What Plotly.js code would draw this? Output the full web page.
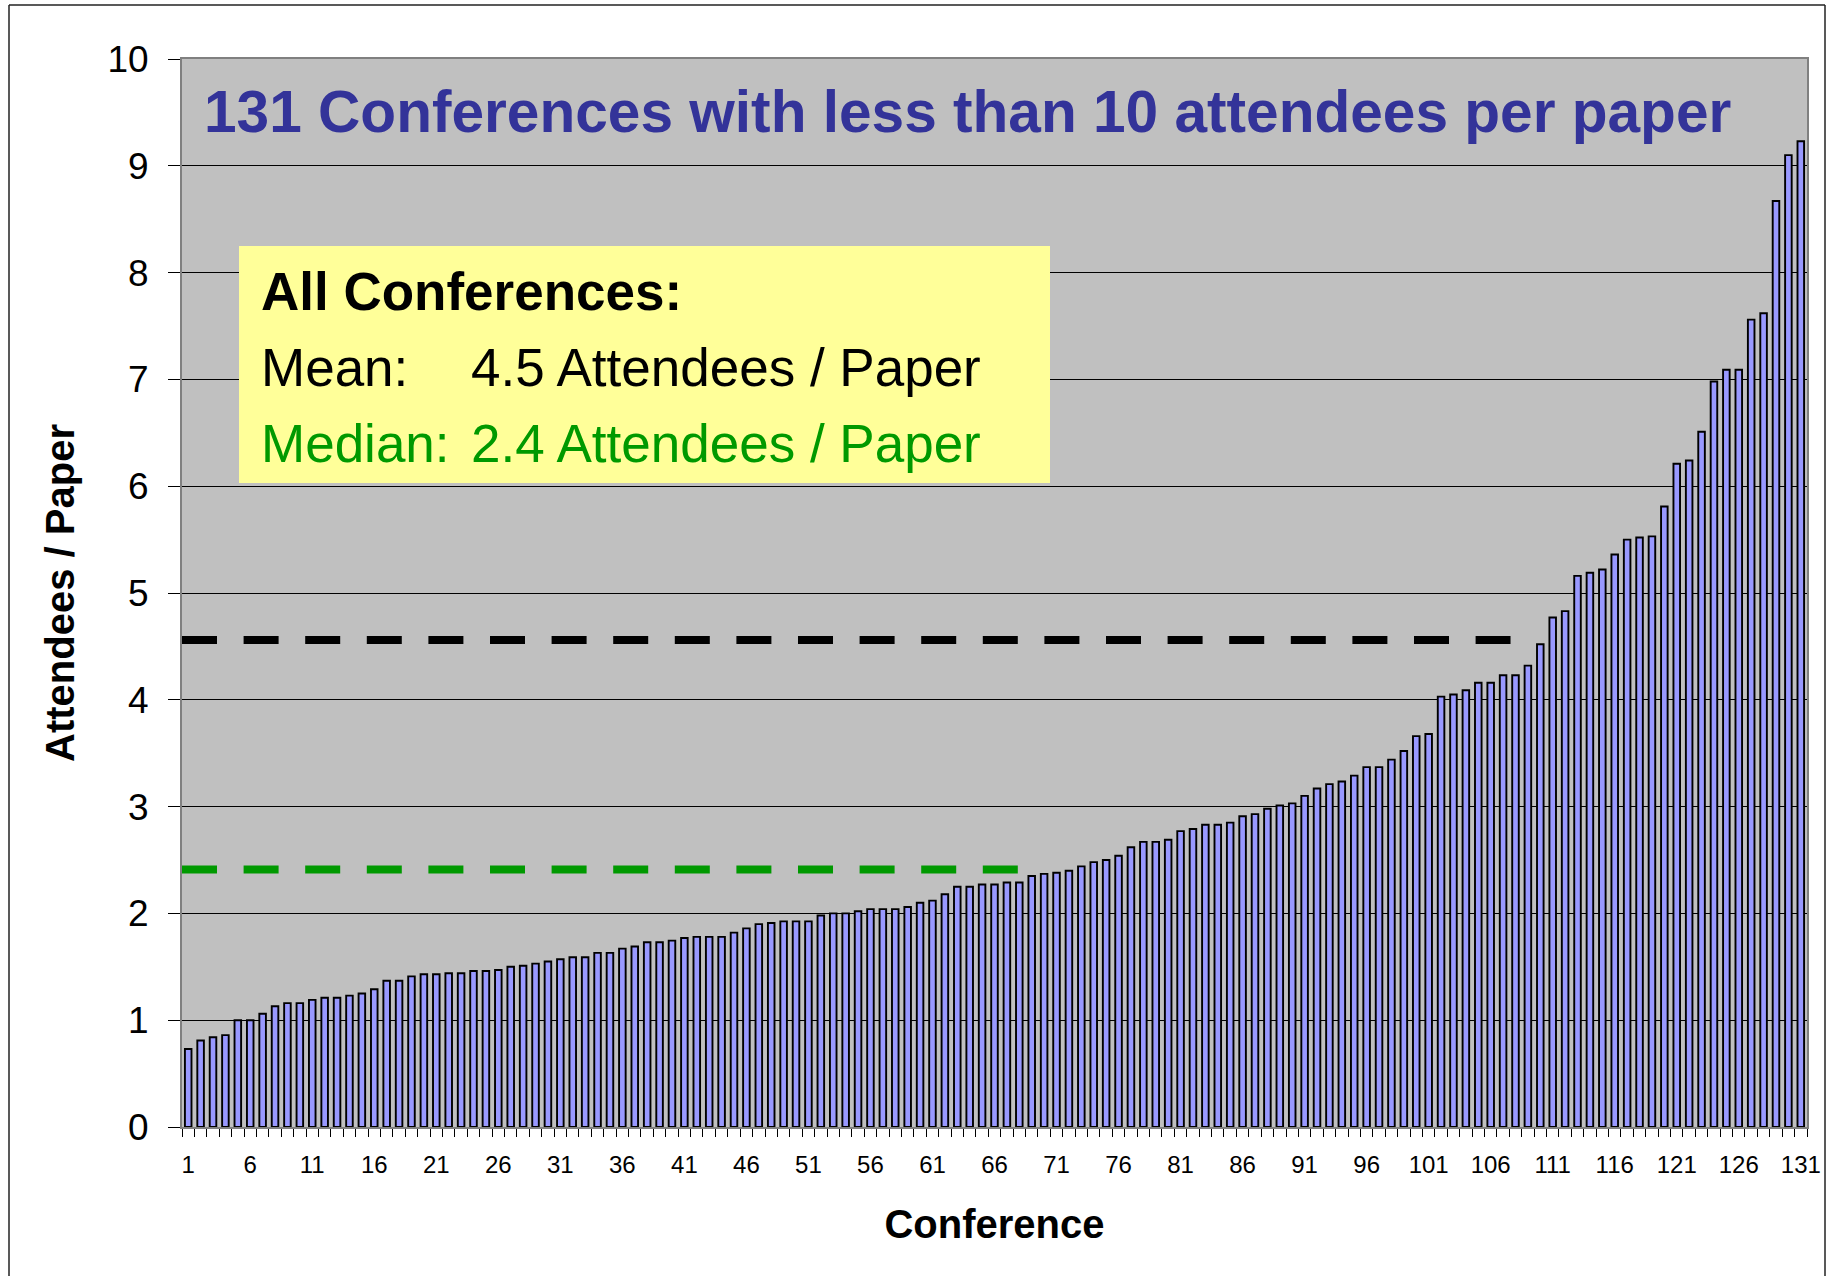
<!DOCTYPE html>
<html>
<head>
<meta charset="utf-8">
<script src="https://cdn.plot.ly/plotly-3.0.1.min.js"></script>
<style>
  html, body { margin: 0; padding: 0; background: #ffffff; }
  #chart { width: 1830px; height: 1276px; }
</style>
</head>
<body>
<div id="chart"></div>
<script>
// Conference index (sorted by attendees per paper)
const conferences = [
  1,2,3,4,5,6,7,8,9,10,11,12,13,14,15,16,17,18,19,20,
  21,22,23,24,25,26,27,28,29,30,31,32,33,34,35,36,37,38,39,40,
  41,42,43,44,45,46,47,48,49,50,51,52,53,54,55,56,57,58,59,60,
  61,62,63,64,65,66,67,68,69,70,71,72,73,74,75,76,77,78,79,80,
  81,82,83,84,85,86,87,88,89,90,91,92,93,94,95,96,97,98,99,100,
  101,102,103,104,105,106,107,108,109,110,111,112,113,114,115,116,117,118,119,120,
  121,122,123,124,125,126,127,128,129,130,131
];

// Attendees per paper
const attendeesPerPaper = [
  0.73,0.81,0.84,0.86,1.00,1.00,1.06,1.13,1.16,1.16,
  1.19,1.21,1.21,1.23,1.25,1.29,1.37,1.37,1.41,1.43,
  1.43,1.44,1.44,1.46,1.46,1.47,1.50,1.51,1.53,1.55,
  1.57,1.59,1.59,1.63,1.63,1.67,1.69,1.73,1.73,1.745,
  1.77,1.78,1.78,1.78,1.82,1.86,1.90,1.91,1.925,1.925,
  1.925,1.98,2.00,2.00,2.02,2.04,2.04,2.04,2.06,2.10,
  2.12,2.18,2.25,2.25,2.27,2.27,2.29,2.29,2.35,2.37,
  2.38,2.40,2.44,2.48,2.50,2.54,2.62,2.67,2.67,2.69,
  2.77,2.79,2.83,2.83,2.85,2.91,2.93,2.98,3.01,3.03,
  3.10,3.17,3.21,3.235,3.29,3.37,3.37,3.44,3.52,3.66,
  3.68,4.03,4.05,4.09,4.16,4.16,4.23,4.23,4.32,4.52,
  4.77,4.83,5.16,5.19,5.22,5.36,5.50,5.52,5.53,5.81,
  6.21,6.24,6.51,6.98,7.09,7.09,7.56,7.62,8.67,9.10,
  9.23
];

// Reference lines (mean and median) and their horizontal extent
const meanX = [0.5, 107.6];
const meanY = [4.56, 4.56];
const medianX = [0.5, 67.9];
const medianY = [2.41, 2.41];

// X tick labels
const xTickVals = [1,6,11,16,21,26,31,36,41,46,51,56,61,66,71,76,81,86,91,96,101,106,111,116,121,126,131];
const xTickText = ["1","6","11","16","21","26","31","36","41","46","51","56","61","66","71","76","81","86","91","96","101","106","111","116","121","126","131"];
const yTickVals = [0,1,2,3,4,5,6,7,8,9,10];

const FONT = "Arial, 'Liberation Sans', Helvetica, sans-serif";

// Layout geometry (pixels)
const W = 1830, H = 1276;
const M = {l: 182, r: 23, t: 59, b: 149};
const PW = W - M.l - M.r, PH = H - M.t - M.b;
const px = x => (x - M.l) / PW;
const py = y => (H - M.b - y) / PH;

const traces = [
  {
    type: 'bar',
    x: conferences,
    y: attendeesPerPaper,
    marker: {color: '#9999FF', line: {color: '#000000', width: 1.9}},
    hoverinfo: 'x+y',
    showlegend: false
  },
  {
    type: 'scatter',
    mode: 'lines',
    x: meanX,
    y: meanY,
    line: {color: '#000000', width: 8, dash: '35px,26.6px'},
    hoverinfo: 'skip',
    showlegend: false
  },
  {
    type: 'scatter',
    mode: 'lines',
    x: medianX,
    y: medianY,
    line: {color: '#009900', width: 8, dash: '35px,26.6px'},
    hoverinfo: 'skip',
    showlegend: false
  }
];

const layout = {
  width: W,
  height: H,
  margin: M,
  paper_bgcolor: '#ffffff',
  plot_bgcolor: '#C0C0C0',
  bargap: 0.47,
  showlegend: false,
  font: {family: FONT, color: '#000000'},
  title: {
    text: '<b>131 Conferences with less than 10 attendees per paper</b>',
    font: {family: FONT, size: 58.6, color: '#333399'},
    xref: 'paper', x: px(204), xanchor: 'left',
    yref: 'container', y: 1 - 111 / H, yanchor: 'middle'
  },
  xaxis: {
    range: [0.5, 131.5],
    tickmode: 'array',
    tickvals: xTickVals,
    ticktext: xTickText,
    ticks: '',
    ticklabelstandoff: 15,
    tickfont: {family: FONT, size: 24, color: '#000000'},
    showgrid: false,
    zeroline: false,
    showline: true,
    linecolor: '#808080',
    linewidth: 2,
    mirror: true,
    minor: {tickmode: 'linear', tick0: 0.5, dtick: 1, ticks: 'outside', ticklen: 8, tickcolor: '#000000', tickwidth: 1, showgrid: false},
    title: {text: '<b>Conference</b>', font: {family: FONT, size: 40, color: '#000000'}, standoff: 33},
    fixedrange: true
  },
  yaxis: {
    range: [0, 10],
    tickmode: 'array',
    tickvals: yTickVals,
    ticks: 'outside',
    ticklen: 12,
    tickcolor: '#000000',
    tickwidth: 1,
    ticklabelstandoff: 12,
    tickfont: {family: FONT, size: 37, color: '#000000'},
    showgrid: true,
    gridcolor: '#000000',
    gridwidth: 1,
    zeroline: false,
    showline: true,
    linecolor: '#808080',
    linewidth: 2,
    mirror: true,
    title: {text: '<b>Attendees / Paper</b>', font: {family: FONT, size: 40, color: '#000000'}, standoff: 20},
    fixedrange: true
  },
  shapes: [
    // yellow summary box
    {type: 'rect', xref: 'paper', yref: 'paper', x0: px(239), x1: px(1050), y0: py(483), y1: py(246),
     fillcolor: '#FFFF99', line: {width: 0}, layer: 'above'},
    // outer frame (left, top, right)
    {type: 'line', xref: 'paper', yref: 'paper', x0: px(9), x1: px(9), y0: py(5), y1: py(1300), line: {color: '#222222', width: 1.5}},
    {type: 'line', xref: 'paper', yref: 'paper', x0: px(9), x1: px(1825), y0: py(5), y1: py(5), line: {color: '#222222', width: 1.5}},
    {type: 'line', xref: 'paper', yref: 'paper', x0: px(1825), x1: px(1825), y0: py(5), y1: py(1300), line: {color: '#222222', width: 1.5}}
  ],
  annotations: [
    {text: '<b>All Conferences:</b>', xref: 'paper', yref: 'paper', x: px(259), y: py(291), xanchor: 'left', yanchor: 'middle',
     showarrow: false, font: {family: FONT, size: 53, color: '#000000'}},
    {text: 'Mean:', xref: 'paper', yref: 'paper', x: px(259), y: py(367), xanchor: 'left', yanchor: 'middle',
     showarrow: false, font: {family: FONT, size: 53, color: '#000000'}},
    {text: '4.5 Attendees / Paper', xref: 'paper', yref: 'paper', x: px(469), y: py(367), xanchor: 'left', yanchor: 'middle',
     showarrow: false, font: {family: FONT, size: 53, color: '#000000'}},
    {text: 'Median:', xref: 'paper', yref: 'paper', x: px(259), y: py(443), xanchor: 'left', yanchor: 'middle',
     showarrow: false, font: {family: FONT, size: 53, color: '#009900'}},
    {text: '2.4 Attendees / Paper', xref: 'paper', yref: 'paper', x: px(469), y: py(443), xanchor: 'left', yanchor: 'middle',
     showarrow: false, font: {family: FONT, size: 53, color: '#009900'}}
  ]
};

Plotly.newPlot('chart', traces, layout, {displayModeBar: false, staticPlot: true});
</script>
</body>
</html>
